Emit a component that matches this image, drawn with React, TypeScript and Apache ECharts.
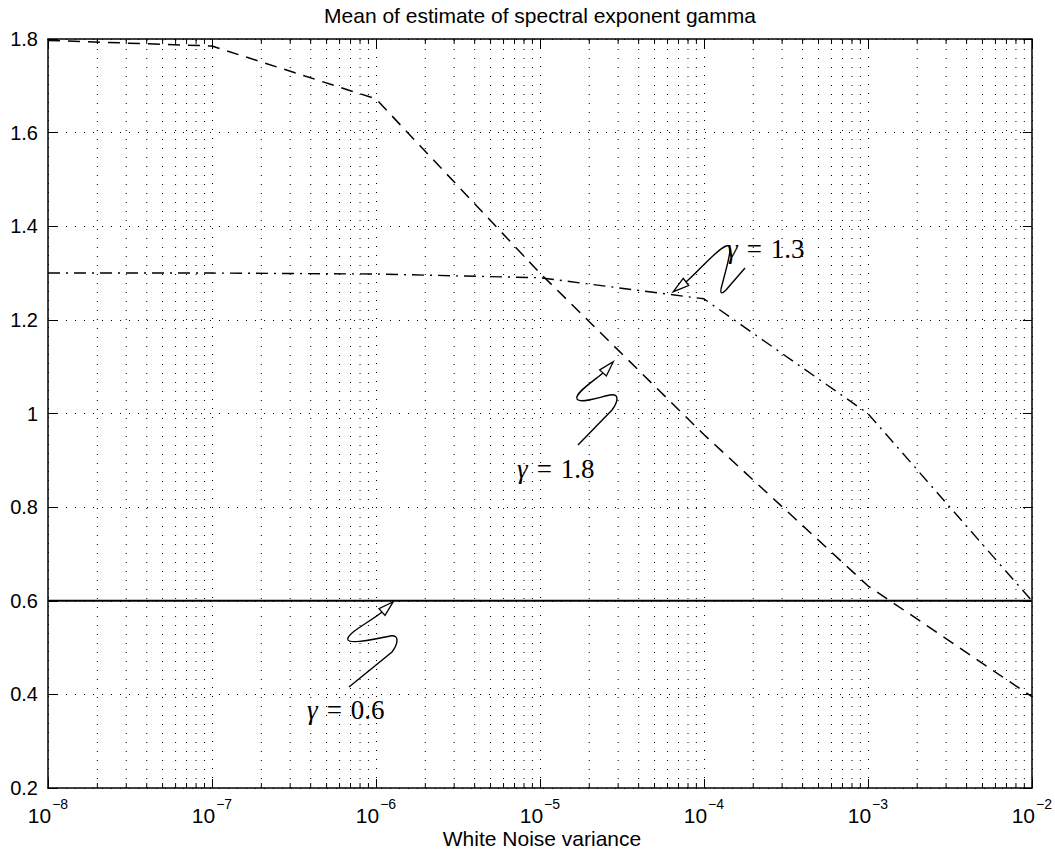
import React, { useEffect, useRef } from 'react';
import * as echarts from 'echarts';

// ---- data ----
const variance = [1e-8, 1e-7, 1e-6, 1e-5, 1e-4, 1e-3, 1e-2];
const gamma18 = [1.797, 1.785, 1.672, 1.3, 0.955, 0.632, 0.395];
const gamma13 = [1.3, 1.3, 1.298, 1.29, 1.245, 1.0, 0.6];
const gamma06 = [0.6, 0.6, 0.6, 0.6, 0.6, 0.6, 0.6];
const xExponents = [-8, -7, -6, -5, -4, -3, -2];
const minorMultipliers = [2, 3, 4, 5, 6, 7, 8, 9];
const yMin = 0.2;
const yMax = 1.8;
const yStep = 0.2;

const titleText = 'Mean of estimate of spectral exponent gamma';
const xName = 'White Noise variance';
const annotations = [
  { label: '1.3', x: 727, y: 249 },
  { label: '1.8', x: 517, y: 469 },
  { label: '0.6', x: 307, y: 710 },
];

const SANS = '"Liberation Sans", Arial, Helvetica, sans-serif';
const SERIF = '"Liberation Serif", "Times New Roman", serif';

const squiggles: { name: string; d: string; tip: number[]; from: number[] }[] = [
  {
    name: 'sq18',
    d: 'M 603 373 C 592 382 574 394 577 399 C 580 404 600 397 610 395 C 620 393 618 402 612 410 L 578 445',
    tip: [613.3, 361.7],
    from: [603, 373],
  },
  {
    name: 'sq06',
    d: 'M 382 612 C 370 622 345 634 348 640 C 351 645 380 638 390 636 C 400 634 398 644 392 652 L 349 687',
    tip: [393.3, 601.7],
    from: [382, 612],
  },
  {
    name: 'sq13',
    d: 'M 686 282 C 700 270 716 250 726 246 C 734 243 728 262 722 285 C 719 295 722 294 726 290 L 745 268',
    tip: [673.3, 291.7],
    from: [686, 282],
  },
];

let registered = false;
function registerShapes() {
  if (registered) return;
  squiggles.forEach((s) => {
    echarts.graphic.registerShape(s.name, echarts.graphic.extendPath(s.d, {}) as any);
  });
  registered = true;
}

function arrowHead(tip: number[], from: number[], half = 4.5) {
  const dx = tip[0] - from[0];
  const dy = tip[1] - from[1];
  const d = Math.hypot(dx, dy);
  const ux = dx / d;
  const uy = dy / d;
  const bx = from[0];
  const by = from[1];
  return [
    [tip[0], tip[1]],
    [bx - uy * half, by + ux * half],
    [bx + uy * half, by - ux * half],
  ];
}

export default function App() {
  const ref = useRef<HTMLDivElement>(null);

  useEffect(() => {
    if (!ref.current) return;
    registerShapes();
    const chart = echarts.init(ref.current, undefined, { renderer: 'svg' });

    const toPairs = (ys: number[]) => variance.map((v, i) => [Math.log10(v), ys[i]]);
    const minorData: number[][] = [];
    xExponents.slice(0, -1).forEach((e) => {
      minorMultipliers.forEach((k) => minorData.push([e + Math.log10(k), yMin]));
    });

    const dotted = [1, 8];
    const axisLine = { show: true, onZero: false, lineStyle: { color: '#000', width: 1.5 } };

    const graphics: any[] = [
      {
        type: 'text',
        x: 540,
        y: 15,
        style: { text: titleText, font: `21px ${SANS}`, fill: '#000', align: 'center', verticalAlign: 'middle' },
      },
      {
        type: 'text',
        x: 542,
        y: 838,
        style: { text: xName, font: `21px ${SANS}`, fill: '#000', align: 'center', verticalAlign: 'middle' },
      },
    ];
    squiggles.forEach((s) => {
      graphics.push({
        type: s.name,
        x: 0,
        y: 0,
        z: 100,
        style: { stroke: '#000', fill: 'none', lineWidth: 1.4 },
      });
      graphics.push({
        type: 'polygon',
        z: 101,
        shape: { points: arrowHead(s.tip, s.from) },
        style: { stroke: '#000', fill: '#fff', lineWidth: 1.3 },
      });
    });
    annotations.forEach((a) => {
      graphics.push({
        type: 'text',
        x: a.x,
        y: a.y,
        z: 102,
        style: {
          text: `{g|γ}{e|=}{n|${a.label}}`,
          verticalAlign: 'middle',
          align: 'left',
          fill: '#000',
          rich: {
            g: { fontFamily: SERIF, fontSize: 27, fontStyle: 'italic', fill: '#000' },
            e: { fontFamily: SERIF, fontSize: 27, fill: '#000', padding: [0, 9, 0, 9] },
            n: { fontFamily: SERIF, fontSize: 27, fill: '#000' },
          },
        },
      });
    });

    const xCommon = {
      type: 'value',
      min: xExponents[0],
      max: xExponents[xExponents.length - 1],
      interval: 1,
      axisLine,
      axisTick: { show: true, inside: true, length: 9, lineStyle: { color: '#000', width: 1 } },
    };
    const yCommon = {
      type: 'value',
      min: yMin,
      max: yMax,
      interval: yStep,
      axisLine,
      axisTick: { show: true, inside: true, length: 9, lineStyle: { color: '#000', width: 1 } },
    };

    chart.setOption({
      animation: false,
      backgroundColor: '#fff',
      grid: { left: 48, right: 23, top: 39, bottom: 65, containLabel: false },
      xAxis: [
        {
          ...xCommon,
          position: 'bottom',
          splitLine: { show: true, lineStyle: { color: '#000', width: 1, type: dotted } },
          axisLabel: {
            show: true,
            margin: 9,
            formatter: (v: number) => `{b|10}{s|−${Math.round(-v)}}`,
            rich: {
              b: { fontFamily: SANS, fontSize: 21, color: '#000' },
              s: { fontFamily: SANS, fontSize: 14, color: '#000', padding: [0, 0, 22, 1] },
            },
          },
        },
        {
          ...xCommon,
          position: 'top',
          splitLine: { show: false },
          axisLabel: { show: false },
        },
      ],
      yAxis: [
        {
          ...yCommon,
          position: 'left',
          splitLine: { show: true, lineStyle: { color: '#000', width: 1, type: dotted } },
          axisLabel: {
            show: true,
            margin: 10,
            fontFamily: SANS,
            fontSize: 20,
            color: '#000',
            formatter: (v: number) => String(Math.round(v * 10) / 10),
          },
        },
        {
          ...yCommon,
          position: 'right',
          splitLine: { show: false },
          axisLabel: { show: false },
        },
      ],
      graphic: graphics,
      series: [
        {
          type: 'custom',
          name: 'minor',
          silent: true,
          z: 1,
          xAxisIndex: 0,
          yAxisIndex: 0,
          encode: { x: 0, y: 1 },
          data: minorData,
          renderItem: (params: any, api: any) => {
            const x = api.value(0);
            const p0 = api.coord([x, yMin]);
            const p1 = api.coord([x, yMax]);
            return {
              type: 'group',
              children: [
                {
                  type: 'line',
                  shape: { x1: p0[0], y1: p0[1], x2: p1[0], y2: p1[1] },
                  style: { stroke: '#000', lineWidth: 1, lineDash: dotted },
                },
                {
                  type: 'line',
                  shape: { x1: p0[0], y1: p0[1], x2: p0[0], y2: p0[1] - 5 },
                  style: { stroke: '#000', lineWidth: 1 },
                },
                {
                  type: 'line',
                  shape: { x1: p1[0], y1: p1[1], x2: p1[0], y2: p1[1] + 5 },
                  style: { stroke: '#000', lineWidth: 1 },
                },
              ],
            };
          },
        },
        {
          type: 'line',
          name: 'gamma=1.8',
          data: toPairs(gamma18),
          showSymbol: false,
          symbol: 'none',
          z: 3,
          lineStyle: { color: '#000', width: 1.5, type: [12, 8] },
        },
        {
          type: 'line',
          name: 'gamma=1.3',
          data: toPairs(gamma13),
          showSymbol: false,
          symbol: 'none',
          z: 3,
          lineStyle: { color: '#000', width: 1.4, type: [12, 6, 2, 6] },
        },
        {
          type: 'line',
          name: 'gamma=0.6',
          data: toPairs(gamma06),
          showSymbol: false,
          symbol: 'none',
          z: 3,
          lineStyle: { color: '#000', width: 1.8, type: 'solid' },
        },
      ],
    });

    return () => {
      chart.dispose();
    };
  }, []);

  return (
    <div
      ref={ref}
      style={{ position: 'absolute', left: 0, top: 0, width: 1055, height: 853, background: '#fff' }}
    />
  );
}
